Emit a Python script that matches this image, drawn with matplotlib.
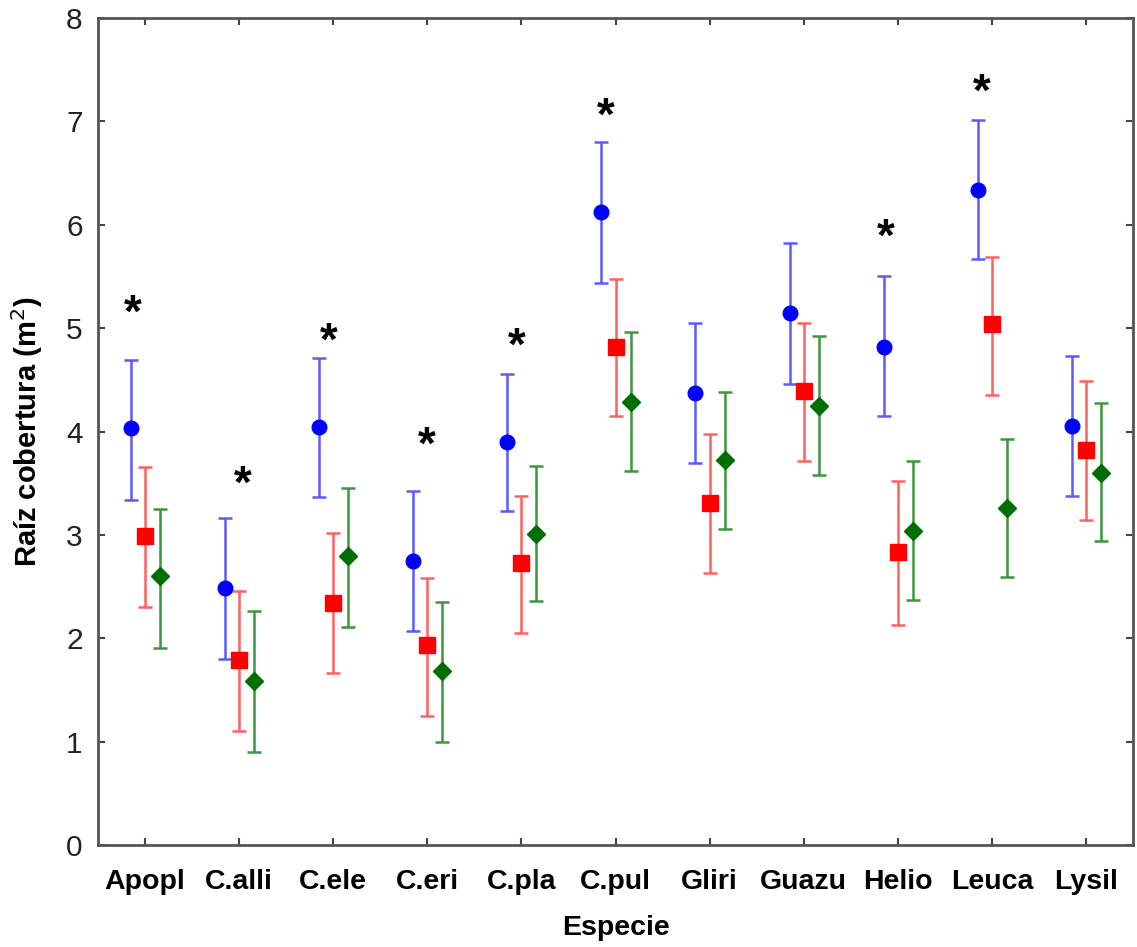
import matplotlib
matplotlib.use("Agg")
import matplotlib.pyplot as plt
import matplotlib.transforms as mtransforms
import numpy as np

plt.rcParams['font.family'] = ['Liberation Sans', 'DejaVu Sans']

# Species and group means with their confidence limits
species = ["Apopl", "C.alli", "C.ele", "C.eri", "C.pla", "C.pul",
           "Gliri", "Guazu", "Helio", "Leuca", "Lysil"]

blue_mean = [4.03, 2.49, 4.04, 2.75, 3.90, 6.12, 4.37, 5.15, 4.82, 6.34, 4.05]
blue_lo   = [3.34, 1.80, 3.37, 2.07, 3.23, 5.44, 3.70, 4.46, 4.15, 5.67, 3.38]
blue_hi   = [4.69, 3.16, 4.71, 3.42, 4.56, 6.80, 5.05, 5.82, 5.50, 7.01, 4.73]

red_mean = [2.99, 1.79, 2.34, 1.93, 2.73, 4.82, 3.31, 4.39, 2.83, 5.04, 3.82]
red_lo   = [2.30, 1.10, 1.66, 1.25, 2.05, 4.15, 2.63, 3.71, 2.13, 4.35, 3.14]
red_hi   = [3.66, 2.46, 3.02, 2.58, 3.38, 5.48, 3.98, 5.05, 3.52, 5.69, 4.49]

green_mean = [2.60, 1.59, 2.80, 1.68, 3.01, 4.29, 3.72, 4.25, 3.04, 3.26, 3.60]
green_lo   = [1.91, 0.90, 2.11, 1.00, 2.36, 3.62, 3.06, 3.58, 2.37, 2.59, 2.94]
green_hi   = [3.25, 2.26, 3.45, 2.35, 3.67, 4.96, 4.38, 4.92, 3.71, 3.93, 4.28]

# Height of the significance asterisk per species (None = not significant)
star_y = [5.27, 3.61, 5.00, 3.99, 4.95, 7.17, None, None, 6.00, 7.40, None]

yticks = [0, 1, 2, 3, 4, 5, 6, 7, 8]

# ---- layout / style ----
star_dx = [-0.13, 0.04, -0.05, -0.01, -0.05, -0.10, 0, 0, -0.13, -0.11, 0]
series = [
    (blue_mean, blue_lo, blue_hi, -0.15, 'o', '#0000ff', '#5a5aff', 10.5),
    (red_mean, red_lo, red_hi, 0.0, 's', '#ff0000', '#ff6060', 11.0),
    (green_mean, green_lo, green_hi, 0.16, 'D', '#006e00', '#3c963c', 9.5),
]

fig = plt.figure(figsize=(11.37, 9.47), dpi=100)
ax = fig.add_axes([0.0862, 0.1077, 0.9103, 0.8733])

x = np.arange(len(species))
for mean, lo, hi, dx, mk, mcol, ecol, ms in series:
    mean = np.asarray(mean)
    yerr = np.vstack([mean - np.asarray(lo), np.asarray(hi) - mean])
    ax.errorbar(x + dx, mean, yerr=yerr, fmt='none', ecolor=ecol,
                elinewidth=1.8, capsize=5, capthick=1.8, zorder=2)
    ax.plot(x + dx, mean, linestyle='none', marker=mk, markersize=ms,
            markerfacecolor=mcol, markeredgecolor=mcol, zorder=3)

fs_star = 33
star_tr = mtransforms.offset_copy(ax.transData, fig=fig, x=0,
                                  y=-0.57 * fs_star, units='points')
for xi, (sy, sdx) in enumerate(zip(star_y, star_dx)):
    if sy is not None:
        ax.text(xi + sdx, sy, '*', transform=star_tr, ha='center',
                va='baseline', fontsize=fs_star, fontweight='bold',
                color='black')

ax.set_xlim(-0.5, len(species) - 0.5)
ax.set_ylim(0, 8)
ax.set_xticks(x)
ax.set_xticklabels(species, fontsize=20.5, fontweight='bold')
ax.set_yticks(yticks)
ax.set_yticklabels([str(t) for t in yticks], fontsize=21.5, color='#222222')

ax.tick_params(axis='both', direction='in', length=5, width=1.5,
               color='#444444', top=True, right=True)
ax.tick_params(axis='x', pad=17)
ax.tick_params(axis='y', pad=11)
for sp in ax.spines.values():
    sp.set_color('#555555')
    sp.set_linewidth(2)

ax.set_xlabel('Especie', fontsize=20.5, fontweight='bold', labelpad=15)
ax.set_ylabel('Raíz cobertura (m$^2$)', fontsize=21, fontweight='bold',
              labelpad=15)

fig.savefig('out.png', dpi=100)
